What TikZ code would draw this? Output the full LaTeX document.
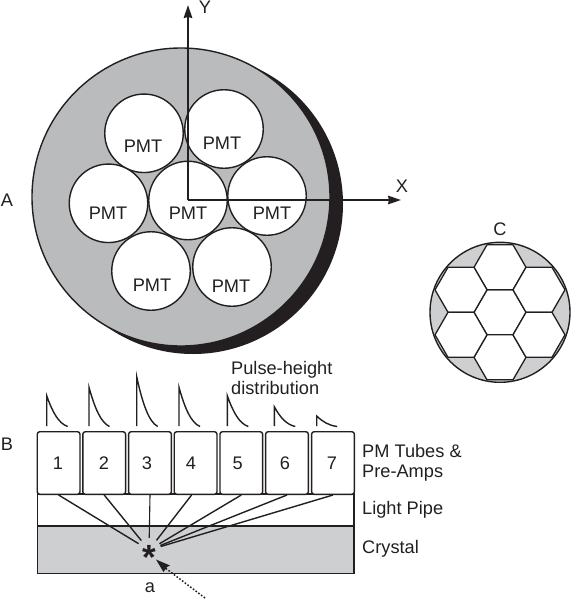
\documentclass[tikz,border=0pt]{standalone}
\usepackage{fontspec}
\setmainfont{Liberation Sans}
\usetikzlibrary{arrows.meta}
\definecolor{agray}{HTML}{B9BBBD}
\definecolor{cgray}{HTML}{CDCFD0}
\definecolor{ink}{HTML}{231F20}
\tikzset{
  lab/.style={font=\fontsize{18.2}{19.5}\selectfont,text=ink,inner sep=0pt},
  labl/.style={lab,anchor=west,align=left},
  num/.style={lab},
  pmt/.style={circle,draw=ink,line width=1.4pt,fill=white,minimum size=78.5pt,inner sep=0pt},
  axis/.style={draw=ink,line width=1.5pt,-{Stealth[length=13pt,width=8.5pt,inset=1pt]}},
  tube/.style={draw=ink,line width=1.4pt,fill=white,rounded corners=2.5pt,minimum width=42.7pt,minimum height=62.6pt,inner sep=0pt},
  band/.style={draw=ink,line width=1.5pt,minimum width=316.6pt,inner sep=0pt},
  ray/.style={draw=ink,line width=1.4pt},
  pulse/.style={draw=ink,line width=1.4pt},
  hexa/.style={draw=ink,line width=1.3pt,fill=white,line join=round},
}
\newcommand{\pulseat}[3]{\draw[pulse] (#1,426) -- (#1,#2) .. controls ({#1+6},{#2+(426.5-#2)*0.55}) and ({#1+12},{#2+(426.5-#2)*0.9}) .. ({#1+#3},426.5);}
\newcommand{\hexat}[2]{\draw[hexa] ({#1+26},#2) -- ({#1+13},{#2+22.5}) -- ({#1-13},{#2+22.5}) -- ({#1-26},#2) -- ({#1-13},{#2-22.5}) -- ({#1+13},{#2-22.5}) -- cycle;}
\begin{document}
\begin{tikzpicture}[x=1pt,y=-1pt]
\useasboundingbox (0,0) rectangle (571,600);
% disc A
\fill[ink] (193,204) circle (150);
\draw[draw=ink,line width=1.4pt,fill=agray] (181,197) circle (149);
\node[pmt] (p1) at (144,133.3) {};
\node[pmt] (p2) at (224,129) {};
\node[pmt] (p3) at (108.5,203.3) {};
\node[pmt] (p4) at (188,200.5) {};
\node[pmt] (p5) at (267,196) {};
\node[pmt] (p6) at (151,271) {};
\node[pmt] (p7) at (232,267) {};
\node[lab] at (143,146) {PMT};
\node[lab] at (222,143) {PMT};
\node[lab] at (108,213) {PMT};
\node[lab] at (188,213) {PMT};
\node[lab] at (272,213) {PMT};
\node[lab] at (152,285) {PMT};
\node[lab] at (231,286) {PMT};
\coordinate (o) at (188,200);
\coordinate (ytip) at (188,5);
\coordinate (xtip) at (401,200);
\draw[axis] (o) -- (ytip);
\draw[axis] (o) -- (xtip);
\node[lab] (ly) at (205,7) {Y};
\node[lab] (lx) at (402,186) {X};
\node[lab] (la) at (7,200) {A};
% disc C
\node[lab] (lc) at (500,229) {C};
\draw[draw=ink,line width=1.4pt,fill=cgray] (500,312.3) circle (70);
\hexat{500}{312.3}
\hexat{500}{267.3}
\hexat{500}{357.3}
\hexat{461}{289.8}
\hexat{539}{289.8}
\hexat{461}{334.8}
\hexat{539}{334.8}
% section B
\node[lab] (lb) at (7,444) {B};
\node[band,fill=white,minimum height=32pt] (pipe) at (195.6,510) {};
\node[band,fill=cgray,minimum height=47.5pt] (crystal) at (195.6,549.7) {};
\node[tube] (b1) at (58.6,463) {};
\node[tube] (b2) at (104.2,463) {};
\node[tube] (b3) at (150,463) {};
\node[tube] (b4) at (195.6,463) {};
\node[tube] (b5) at (241.3,463) {};
\node[tube] (b6) at (287,463) {};
\node[tube] (b7) at (333,463) {};
\node[num] at (58,463) {1};
\node[num] at (104,463) {2};
\node[num] at (147,463) {3};
\node[num] at (191,463) {4};
\node[num] at (237.7,463) {5};
\node[num] at (285,463) {6};
\node[num] at (332,463) {7};
\node[circle,minimum size=24pt,inner sep=0pt] (star) at (149,550) {};
\node[inner sep=0pt,text=ink,font=\fontsize{35}{35}\bfseries\selectfont] at (149,549) {\raisebox{-20pt}[6pt][6pt]{*}};
\draw[ray] (b1.south) -- (star);
\draw[ray] (b2.south) -- (star);
\draw[ray,line width=1.1pt] (b3.south) -- (star);
\draw[ray] ([xshift=-4pt]b4.south) -- (star);
\draw[ray] (b5.south) -- (star);
\draw[ray] (b6.south) -- (star);
\draw[ray] (b7.south) -- (star);
\coordinate (beam) at (205,598);
\draw[draw=ink,line width=1.5pt,dash pattern=on 1.6pt off 1.8pt] (beam) -- (164,567);
\draw[draw=none,fill=ink] (156,559.5) -- (170,565.5) -- (167,567) -- (163.5,572) -- cycle;
\node[lab] (a) at (150,587.5) {a};
\pulseat{46.7}{395.7}{21}
\pulseat{89}{387.3}{20.5}
\pulseat{136.7}{376.7}{21}
\pulseat{179}{387.3}{21}
\pulseat{227.3}{395.7}{21}
\pulseat{274.3}{406.7}{21}
\pulseat{316.7}{416}{20.5}
\node[labl] (title) at (231,378) {Pulse-height\\distribution};
\node[labl] (l1) at (362,463) {PM Tubes \&\\Pre-Amps};
\node[labl] (l2) at (362,509.5) {Light Pipe};
\node[labl] (l3) at (362,548.5) {Crystal};
\end{tikzpicture}
\end{document}
